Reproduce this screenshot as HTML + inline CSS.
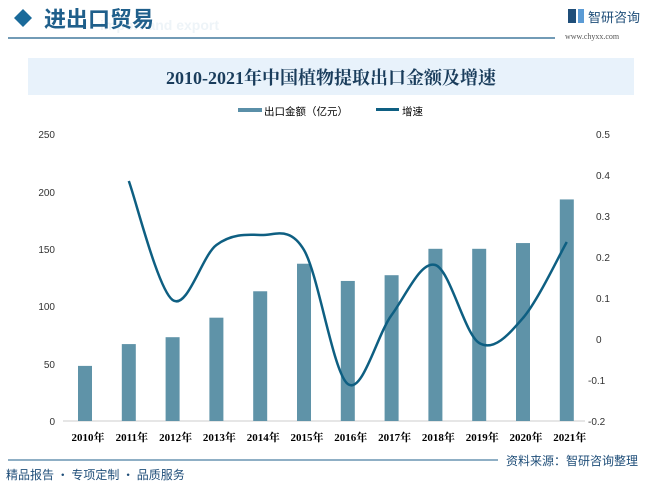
<!DOCTYPE html>
<html><head><meta charset="utf-8"><style>
body{margin:0;width:659px;height:487px;background:#fff;font-family:"Liberation Sans","Noto Sans CJK SC",sans-serif;overflow:hidden;position:relative}
</style></head><body>
<svg width="659" height="487" style="position:absolute;left:0;top:0" font-family="Liberation Sans, Noto Sans CJK SC, sans-serif">
<text x="100" y="30" font-size="14" fill="#eef4f8" font-weight="bold">import and export</text>
<polygon points="14,18 23,9 32,18 23,27" fill="#1a6a9a"/>
<text x="44" y="27" font-size="22" fill="#1f5f8b" font-family="Noto Sans CJK SC, sans-serif" font-weight="bold">进出口贸易</text>
<line x1="8" y1="38" x2="555" y2="38" stroke="#1f5f8b" stroke-width="1.2"/>
<rect x="568" y="9" width="8" height="14" fill="#1f4e79"/>
<rect x="578" y="9" width="6" height="14" fill="#5b9bd5"/>
<text x="588" y="22" font-size="13" fill="#1f4e79" font-family="Noto Sans CJK SC, sans-serif">智研咨询</text>
<text x="565" y="39" font-size="8" fill="#555" font-family="Liberation Serif, serif">www.chyxx.com</text>
<rect x="28" y="58" width="606" height="37" fill="#e8f2fb"/>
<text x="331" y="84" font-size="18" fill="#1a3d5c" text-anchor="middle" font-family="Liberation Serif, Noto Serif CJK SC, serif" font-weight="bold">2010-2021年中国植物提取出口金额及增速</text>
<rect x="238" y="108" width="24" height="4" fill="#5a8fa8"/>
<text x="264" y="115" font-size="10.5" fill="#000">出口金额（亿元）</text>
<rect x="376" y="108" width="23" height="3" fill="#0e5f82"/>
<text x="402" y="115" font-size="10.5" fill="#000">增速</text>
<g font-size="10" fill="#333" text-anchor="end">
<text x="55" y="138">250</text><text x="55" y="196">200</text><text x="55" y="253">150</text><text x="55" y="310">100</text><text x="55" y="368">50</text><text x="55" y="425">0</text>
</g>
<g font-size="10" fill="#333">
<text x="596" y="138">0.5</text><text x="596" y="179">0.4</text><text x="596" y="220">0.3</text><text x="596" y="261">0.2</text><text x="596" y="302">0.1</text><text x="596" y="343">0</text><text x="588" y="384">-0.1</text><text x="588" y="425">-0.2</text>
</g>
<line x1="63" y1="421" x2="585" y2="421" stroke="#ccc"/>
<g id="bars" fill="#5f93a8"></g>
<path id="ln" fill="none" stroke="#0e5f82" stroke-width="2.5"/>
<g id="xl" font-size="11" font-weight="bold" fill="#000" text-anchor="middle" font-family="Liberation Serif, Noto Serif CJK SC, serif"></g>
<line x1="8" y1="460" x2="498" y2="460" stroke="#1f5f8b" stroke-width="1"/>
<text x="506" y="465" font-size="12" fill="#1f4e79" font-family="Noto Sans CJK SC, sans-serif">资料来源：智研咨询整理</text>
<text x="6" y="479" font-size="12" fill="#1f4e79" font-family="Noto Sans CJK SC, sans-serif">精品报告 · 专项定制 · 品质服务</text>
</svg>
<script>
var v=[48,67,73,90,113,137,122,127,150,150,155,193],b='',x='';
for(var i=0;i<12;i++){var cx=85+i*43.8,h=v[i]*1.148;b+='<rect x="'+(cx-7)+'" y="'+(421-h)+'" width="14" height="'+h+'"/>';x+='<text x="'+(cx+3)+'" y="441">'+(2010+i)+'年</text>';}
document.getElementById('bars').innerHTML=b;document.getElementById('xl').innerHTML=x;
var ys=[181,300,245,235,250,384,315,265,343,318,242],p=[];
for(i=0;i<11;i++)p.push([128.8+i*43.8,ys[i]]);
var d='M'+p[0];
for(i=0;i<10;i++){var p0=p[Math.max(0,i-1)],p1=p[i],p2=p[i+1],p3=p[Math.min(10,i+2)];
d+=' C'+(p1[0]+(p2[0]-p0[0])/6)+','+(p1[1]+(p2[1]-p0[1])/6)+' '+(p2[0]-(p3[0]-p1[0])/6)+','+(p2[1]-(p3[1]-p1[1])/6)+' '+p2;}
document.getElementById('ln').setAttribute('d',d);
</script>
</body></html>
